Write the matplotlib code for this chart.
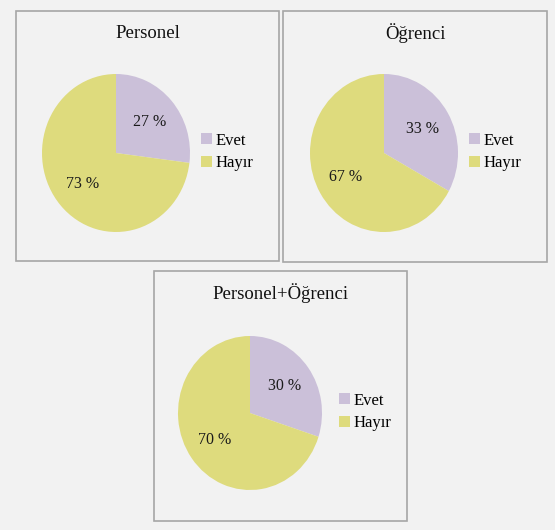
import matplotlib.pyplot as plt
from matplotlib.patches import Rectangle, Patch

W, H = 555, 530

titles = ["Personel", "Öğrenci", "Personel+Öğrenci"]
categories = ["Evet", "Hayır"]
values = [[27, 73], [33, 67], [30, 70]]
colors = ["#cbc0d9", "#dedb7d"]

# pixel layout: panel box (x0, y0, x1, y1), pie centre and radii
panels = [(16, 11, 279, 261), (283, 11, 547, 262), (154, 271, 407, 521)]
pies = [(116, 153, 74, 79), (384, 153, 74, 79), (250, 413, 72, 77)]
legend_pos = [(201, 140), (469, 140), (339, 400)]

plt.rcParams["font.family"] = ["Liberation Serif", "DejaVu Serif"]

fig = plt.figure(figsize=(W / 100, H / 100), dpi=100, facecolor="#f2f2f2")


def fx(x):
    return x / W


def fy(y):
    return 1 - y / H


for i in range(3):
    x0, y0, x1, y1 = panels[i]
    fig.patches.append(Rectangle((fx(x0), fy(y1)), fx(x1 - x0), (y1 - y0) / H,
                                 transform=fig.transFigure, facecolor="#f2f2f2",
                                 edgecolor="#a6a6a6", linewidth=1.2, zorder=-1))
    fig.text(fx((x0 + x1) / 2), fy(y0 + 22), titles[i], ha="center", va="center",
             fontsize=13.5, color="#111111")

    cx, cy, rx, ry = pies[i]
    ax = fig.add_axes([fx(cx - rx), fy(cy + ry), fx(2 * rx), 2 * ry / H])
    wedges, texts, autotexts = ax.pie(values[i], colors=colors, startangle=90,
                                      counterclock=False, radius=1,
                                      autopct=lambda p: f"{p:.0f} %",
                                      pctdistance=0.6,
                                      textprops={"fontsize": 11.5, "color": "#1a1a1a"})
    ax.set_aspect("auto")
    ax.set_xlim(-1, 1)
    ax.set_ylim(-1, 1)
    ax.axis("off")

    handles = [Patch(facecolor=c, edgecolor="none") for c in colors]
    lx, ly = legend_pos[i]
    fig.legend(handles, categories, loc="center left",
               bbox_to_anchor=(fx(lx), fy(ly + 12)), frameon=False,
               fontsize=12, handlelength=0.65, handleheight=0.65,
               handletextpad=0.25, labelspacing=0.4, borderpad=0, borderaxespad=0)

fig.savefig("out.png", dpi=100, facecolor=fig.get_facecolor())
